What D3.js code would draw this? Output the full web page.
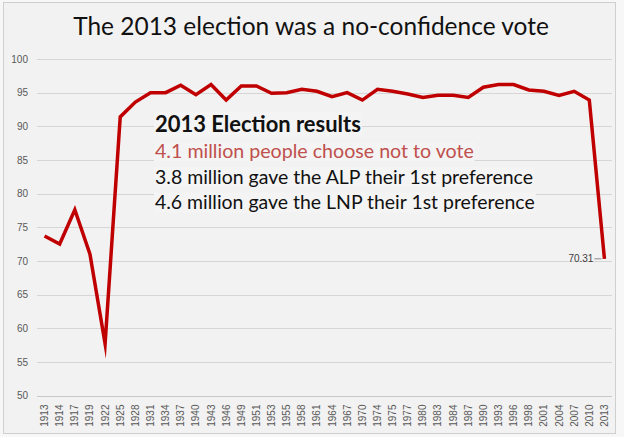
<!DOCTYPE html>
<html><head><meta charset="utf-8">
<script src="https://cdn.jsdelivr.net/npm/d3@7"></script>
<style>html,body{margin:0;padding:0;background:#f7f7f7;}svg{display:block;}</style>
</head><body><svg id="c" width="624" height="437"></svg>
<script>
const years = ["1913","1914","1917","1919","1922","1925","1928","1931","1934","1937","1940","1943","1946","1949","1951","1953","1955","1958","1961","1964","1967","1970","1974","1975","1977","1980","1983","1984","1987","1990","1993","1996","1998","2001","2004","2007","2010","2013"];
const turnout = [73.7,72.5,77.6,71.0,57.7,91.4,93.6,95.0,95.0,96.1,94.7,96.2,93.9,96.0,96.0,94.9,95.0,95.5,95.2,94.4,95.0,93.9,95.5,95.2,94.8,94.3,94.6,94.6,94.3,95.8,96.2,96.2,95.4,95.2,94.6,95.2,93.9,70.31];
const yTicks = [50,55,60,65,70,75,80,85,90,95,100];
const titleText = "The 2013 election was a no-confidence vote";
const noteLines = ["2013 Election results","4.1 million people choose not to vote","3.8 million gave the ALP their 1st preference","4.6 million gave the LNP their 1st preference"];
const lastLabel = "70.31";

const svg = d3.select("#c");
const W = 624, H = 437;
svg.append("rect").attr("x",3.5).attr("y",2.5).attr("width",612).attr("height",431)
  .attr("fill","#f2f2f2").attr("stroke","#cfcfcf");

const x = d3.scaleBand().domain(years).range([37,612]);
const y = d3.scaleLinear().domain([50,100]).range([395.5,59]);

// gridlines
svg.append("g").selectAll("line").data(yTicks).join("line")
  .attr("x1",37).attr("x2",612).attr("y1",d=>Math.round(y(d))+0.5).attr("y2",d=>Math.round(y(d))+0.5)
  .attr("stroke",d=>d===50?"#c8c8c8":"#d6d6d6").attr("stroke-width",1);

// y axis labels
const yAxis = d3.axisLeft(y).tickValues(yTicks).tickSize(0).tickPadding(0);
const gy = svg.append("g").attr("transform","translate(28,0)").call(yAxis);
gy.select(".domain").remove();
gy.selectAll("text").attr("font-family","Liberation Sans, Arial, sans-serif").attr("font-size",10).attr("fill","#595959");

// x axis labels
const xAxis = d3.axisBottom(x).tickSize(0).tickPadding(0);
const gx = svg.append("g").attr("transform","translate(0,395.5)").call(xAxis);
gx.select(".domain").remove();
gx.selectAll("text").attr("font-family","Liberation Sans, Arial, sans-serif").attr("font-size",10).attr("fill","#595959")
  .attr("text-anchor","end").attr("dy",null).attr("y",null)
  .attr("transform","translate(3.5,9) rotate(-90)");

// title
const title = svg.append("text").attr("x",311).attr("y",35).attr("text-anchor","middle")
  .attr("font-family","Lato, sans-serif").attr("font-size",24).attr("fill","#111").text(titleText);
function fit(sel, target){ const w = sel.node().getComputedTextLength(); const fs = +sel.attr("font-size"); sel.attr("font-size", fs*target/w); }
fit(title, 476);

// note block
const noteX = 155, baselines = [131.7,158.3,184,209.3], widths = [206,319,378,380];
const colors = ["#111","#c0504d","#111","#111"];
const noteG = svg.append("g");
noteLines.forEach((t,i)=>{
  const bg = noteG.append("rect").attr("fill","#f4f4f4");
  const tx = noteG.append("text").attr("x",noteX).attr("y",baselines[i])
    .attr("font-family","Lato, sans-serif").attr("font-size",18).attr("font-weight",i===0?"bold":"normal")
    .attr("fill",colors[i]).text(t);
  fit(tx, widths[i]);
  const b = tx.node().getBBox();
  bg.attr("x",b.x-1).attr("y",b.y+2).attr("width",b.width+2).attr("height",b.height-3);
});

// line
const line = d3.line().x((d,i)=>x(years[i])+x.bandwidth()/2).y(d=>y(d));
svg.append("path").datum(turnout).attr("d",line).attr("fill","none")
  .attr("stroke","#c00000").attr("stroke-width",3.5).attr("stroke-linejoin","miter").attr("stroke-miterlimit",10);

// last value label
const li = turnout.length-1;
const lx = x(years[li])+x.bandwidth()/2, ly = y(turnout[li]);
svg.append("line").attr("x1",lx-10).attr("x2",lx-3).attr("y1",ly).attr("y2",ly).attr("stroke","#888").attr("stroke-width",1);
svg.append("text").attr("x",lx-11).attr("y",ly+3.5).attr("text-anchor","end")
  .attr("font-family","Liberation Sans, Arial, sans-serif").attr("font-size",10).attr("fill","#404040").text(lastLabel);
</script></body></html>
